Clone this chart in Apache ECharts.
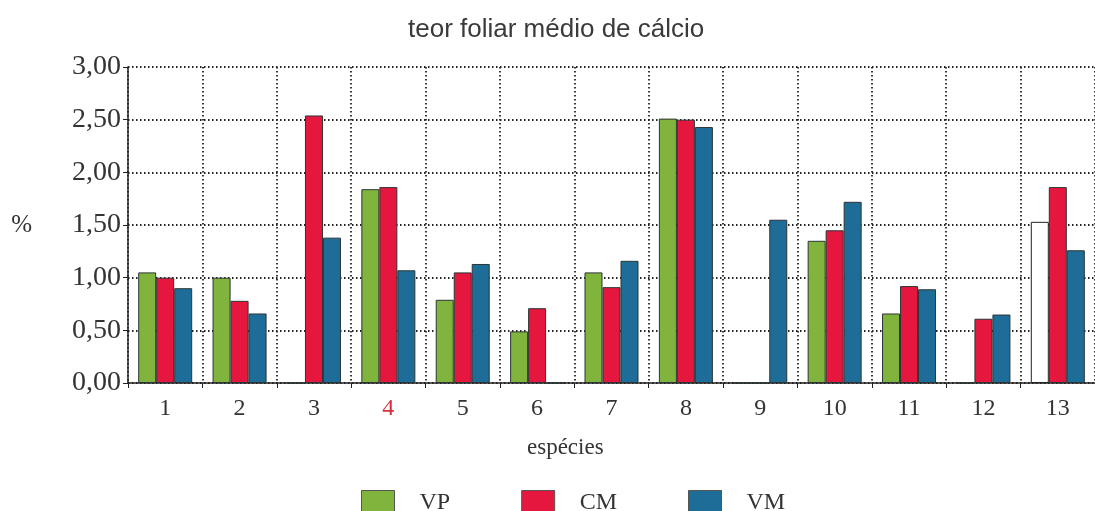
<!DOCTYPE html>
<html>
<head>
<meta charset="utf-8">
<script src="https://cdn.jsdelivr.net/npm/echarts@6/dist/echarts.min.js"></script>
<style>
  html, body { margin: 0; padding: 0; background: #fff; }
  #chart { width: 1095px; height: 511px; }
</style>
</head>
<body>
<div id="chart"></div>
<script>
// dados (teor foliar médio de cálcio, %)
var especies = ['1', '2', '3', '4', '5', '6', '7', '8', '9', '10', '11', '12', '13'];
var vp = [1.05, 1.00, 0, 1.84, 0.79, 0.49, 1.05, 2.51, 0, 1.35, 0.66, 0, 1.53];
var cm = [1.00, 0.78, 2.54, 1.86, 1.05, 0.71, 0.91, 2.50, 0, 1.45, 0.92, 0.61, 1.86];
var vm = [0.90, 0.66, 1.38, 1.07, 1.13, 0, 1.16, 2.43, 1.55, 1.72, 0.89, 0.65, 1.26];
var yTicks = [0, 0.5, 1, 1.5, 2, 2.5, 3];

var serif = '"Liberation Serif", "DejaVu Serif", serif';
var chart = echarts.init(document.getElementById('chart'));

// a barra VP da espécie 13 aparece sem preenchimento
var vpData = vp.map(function (v, i) {
  if (i === 12) {
    return { value: v, itemStyle: { color: '#ffffff', borderColor: '#222' } };
  }
  return v;
});

function serie(name, data, cor) {
  return {
    name: name,
    type: 'bar',
    data: data,
    barWidth: 18,
    barGap: '0%',
    itemStyle: { color: cor, borderColor: '#2b3535', borderWidth: 1 }
  };
}

var option = {
  backgroundColor: '#ffffff',
  animation: false,
  title: {
    text: 'teor foliar médio de cálcio',
    left: 403,
    top: 12,
    textStyle: { fontFamily: '"Liberation Sans", Arial, sans-serif', fontSize: 26, fontWeight: 'normal', color: '#3a3a3a' }
  },
  legend: {
    left: 356,
    top: 485,
    icon: 'rect',
    itemWidth: 33,
    itemHeight: 24,
    itemGap: 71,
    data: ['VP', 'CM', 'VM'],
    itemStyle: { borderColor: '#555', borderWidth: 1 },
    textStyle: { fontFamily: serif, fontSize: 24, color: '#333', padding: [40, 0, 0, 20] }
  },
  grid: { left: 128, top: 67, width: 972, height: 316 },
  xAxis: {
    type: 'category',
    data: especies,
    axisLine: { lineStyle: { color: '#222', width: 1.5 } },
    axisTick: { show: true, length: 5, lineStyle: { color: '#222' } },
    axisLabel: {
      fontFamily: serif,
      fontSize: 24,
      margin: 14,
      color: function (value) { return value === '4' ? '#d9303f' : '#333'; }
    },
    splitLine: { show: true, lineStyle: { type: [1.5, 2.5], color: '#222', width: 1.8 } }
  },
  yAxis: {
    type: 'value',
    min: yTicks[0],
    max: yTicks[yTicks.length - 1],
    interval: 0.5,
    name: '%',
    nameLocation: 'middle',
    nameRotate: 0,
    nameGap: 96,
    nameTextStyle: { fontFamily: serif, fontSize: 25, color: '#333' },
    axisLine: { show: true, lineStyle: { color: '#222', width: 1.5 } },
    axisTick: { show: true, length: 5, lineStyle: { color: '#222' } },
    axisLabel: {
      fontFamily: serif,
      fontSize: 28,
      margin: 7,
      color: '#333',
      formatter: function (v) { return v.toFixed(2).replace('.', ','); }
    },
    splitLine: { show: true, lineStyle: { type: [1.5, 2.5], color: '#222', width: 1.8 } }
  },
  graphic: [{
    type: 'text',
    left: 527,
    top: 436,
    style: { text: 'espécies', font: '23px ' + serif, fill: '#333' }
  }],
  series: [
    serie('VP', vpData, '#80b43c'),
    serie('CM', cm, '#e5173f'),
    serie('VM', vm, '#1e6d98')
  ]
};

chart.setOption(option);
</script>
</body>
</html>
